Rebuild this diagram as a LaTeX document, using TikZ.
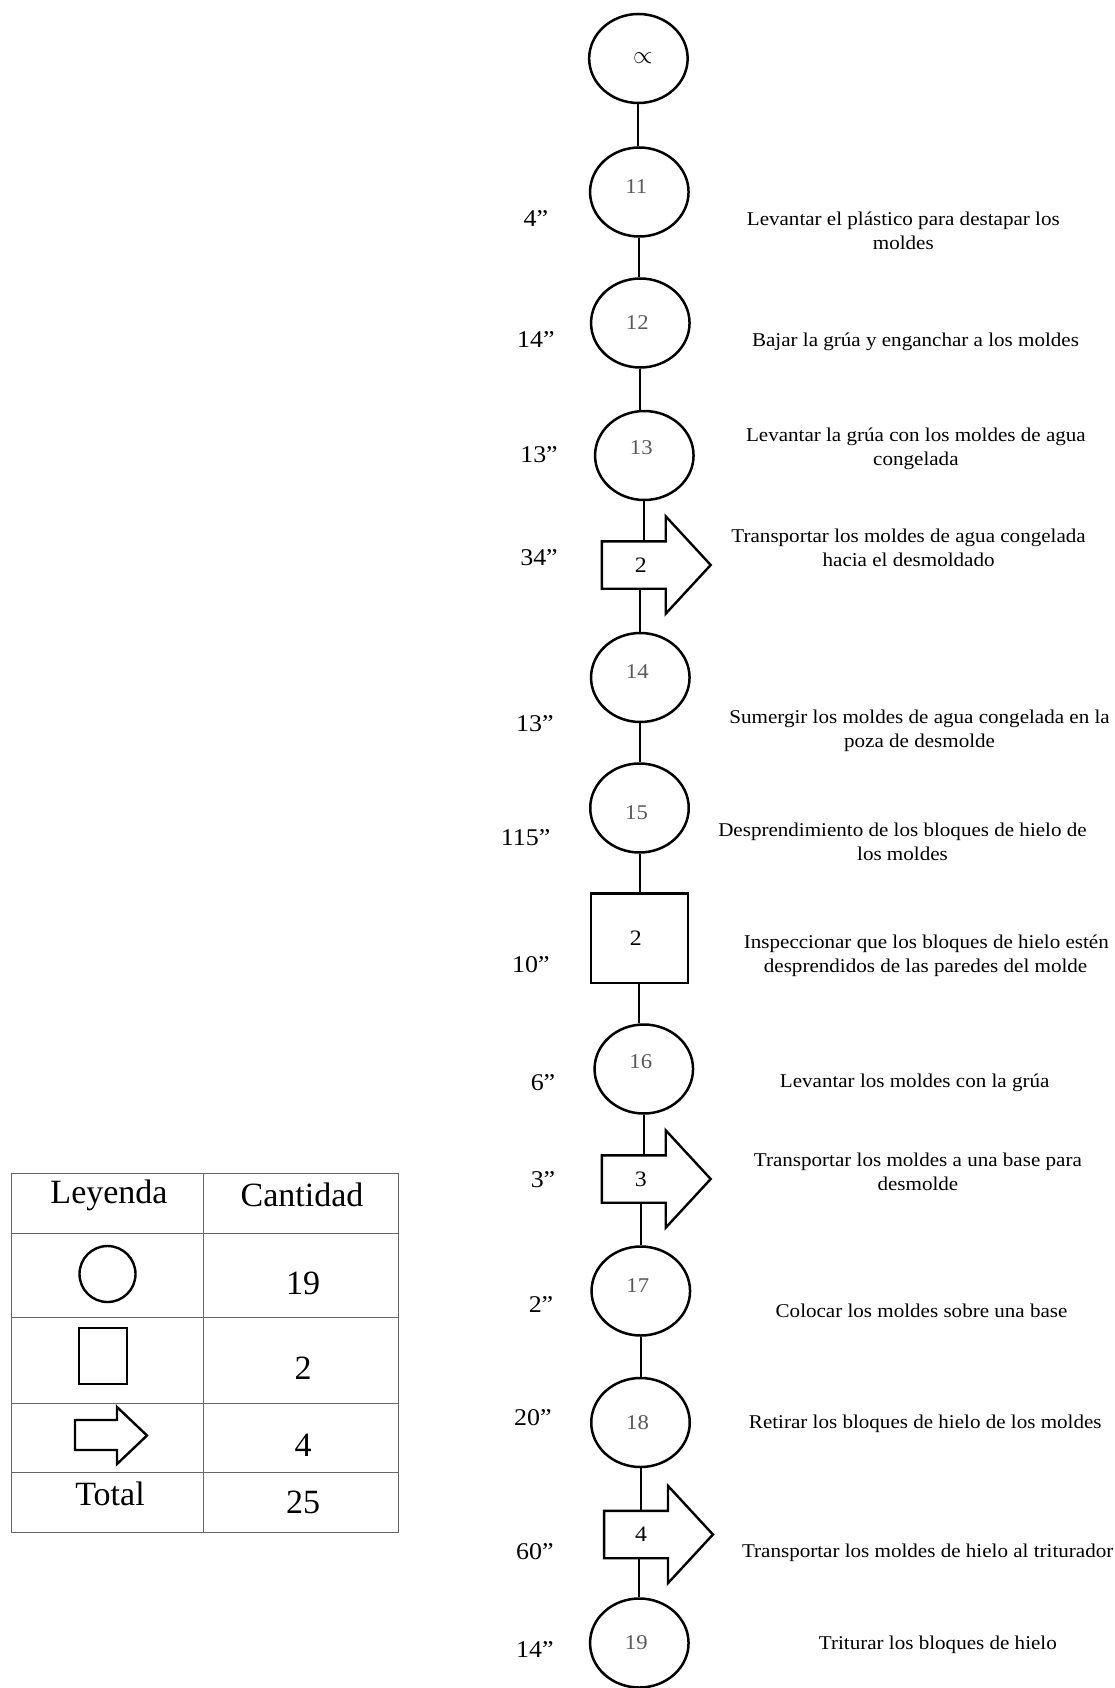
\documentclass[tikz,border=0pt]{standalone}
\usepackage{fontspec}
\setmainfont{Liberation Serif}
\newfontfamily\widefont[FakeStretch=1.08]{Liberation Serif}
\usetikzlibrary{shapes.geometric,calc}
\newcommand\movearrowoutline[1]{\draw[shp, line join=miter] (#1.north west) -- (#1.north east) -- ++(0,-25) -- ($(#1.east)+(45,0)$) -- ($(#1.south east)+(0,25)$) -- (#1.south east) -- (#1.south west) -- cycle;}
\newcommand\nudge[2]{\raisebox{#1}[\height][\depth]{#2}}
\begin{document}
\begin{tikzpicture}[x=1pt,y=-1pt,
 shp/.style={line width=2.4pt, black},
 opnode/.style={ellipse, draw, line width=2.5pt, minimum width=98.5pt, minimum height=89pt, inner sep=0pt, font=\widefont\fontsize{21}{24}\selectfont, text=black!65, execute at begin node={\hspace*{-6pt}}},
 insp/.style={rectangle, draw, line width=2.5pt, minimum width=97pt, minimum height=89.5pt, inner sep=0pt, font=\widefont\fontsize{22}{24}\selectfont},
 movebox/.style={rectangle, minimum width=63.5pt, minimum height=47pt, inner sep=0pt, font=\widefont\fontsize{22}{24}\selectfont},
 conn/.style={line width=2pt},
 tlabel/.style={font=\widefont\fontsize{24}{26}\selectfont},
 desc/.style={font=\widefont\fontsize{19.5}{24}\selectfont, align=center},
 tabline/.style={line width=1pt, black!60},
 tabtext/.style={font=\fontsize{34}{40}\selectfont}]

\useasboundingbox (0,0) rectangle (1115,1688);

% process nodes
\node[opnode, text=black] (ca) at (638.4,58.5) {\hspace*{15pt}\fontsize{24}{24}\selectfont$\propto$};
\node[opnode] (c11) at (639.3,192) {\nudge{5.5pt}{11}};
\node[opnode] (c12) at (640.3,323) {12};
\node[opnode] (c13) at (644.3,455.5) {\nudge{7.5pt}{13}};
\node[movebox] (a2) at (633.75,565) {\hspace*{14pt}2};
\movearrowoutline{a2}
\node[opnode] (c14) at (640.3,677.5) {\nudge{5.5pt}{14}};
\node[opnode] (c15) at (639.5,808) {\nudge{-5pt}{15}};
\node[insp] (s2) at (639.3,938) {\hspace*{-7pt}2};
\node[opnode] (c16) at (643.8,1069) {\nudge{7.5pt}{16}};
\node[movebox] (a3) at (633.75,1179) {\hspace*{14pt}3};
\movearrowoutline{a3}
\node[opnode] (c17) at (640.8,1291) {\nudge{5.5pt}{17}};
\node[opnode] (c18) at (640.5,1422.5) {18};
\node[movebox] (a4) at (636,1534.5) {\hspace*{10pt}4};
\movearrowoutline{a4}
\node[opnode] (c19) at (639.3,1643) {19};

% connectors
\draw[conn] (ca.south) -- (ca.south |- c11.north);
\draw[conn] (c11.south) -- (c11.south |- c12.north);
\draw[conn] (c12.south) -- (c12.south |- c13.north);
\draw[conn] (c13.south) -- (c13.south |- a2.north);
\draw[conn] (c14.north |- a2.south) -- (c14.north);
\draw[conn] (c14.south) -- (c14.south |- c15.north);
\draw[conn] (c15.south) -- (c15.south |- s2.north);
\draw[conn] (s2.south) -- (s2.south |- c16.north);
\draw[conn] (c16.south) -- (c16.south |- a3.north);
\draw[conn] (c17.north |- a3.south) -- (c17.north);
\draw[conn] (c17.south) -- (c17.south |- c18.north);
\draw[conn] (c18.south) -- (c18.south |- a4.north);
\draw[conn] (c19.north |- a4.south) -- (c19.north);

% times
\node[tlabel] (t11) at (535.8,219) {4”};
\node[tlabel] (t12) at (535.8,340) {14”};
\node[tlabel] (t13) at (539,455) {13”};
\node[tlabel] (ta2) at (539,558) {34”};
\node[tlabel] (t14) at (534.9,724) {13”};
\node[tlabel] (t15) at (525.6,838) {115”};
\node[tlabel] (ts2) at (530.9,965) {10”};
\node[tlabel] (t16) at (543,1083) {6”};
\node[tlabel] (ta3) at (543,1180) {3”};
\node[tlabel] (t17) at (541,1305) {2”};
\node[tlabel] (t18) at (532.9,1418) {20”};
\node[tlabel] (ta4) at (534.9,1552) {60”};
\node[tlabel] (t19) at (534.9,1649) {14”};

% descriptions
\node[desc] (d11) at (903.3,231) {Levantar el plástico para destapar los\\moldes};
\node[desc] (d12) at (915.5,342) {Bajar la grúa y enganchar a los moldes};
\node[desc] (d13) at (915.9,449) {Levantar la grúa con los moldes de agua\\congelada};
\node[desc] (da2) at (908.6,548) {Transportar los moldes de agua congelada\\hacia el desmoldado};
\node[desc] (d14) at (919.6,731) {Sumergir los moldes de agua congelada en la\\poza de desmolde};
\node[desc] (d15) at (902.5,842) {Desprendimiento de los bloques de hielo de\\los moldes};
\node[desc, align=left, anchor=west, inner xsep=0pt] (ds2) at (743.7,956) {Inspeccionar que los bloques de hielo estén\\\hspace*{20pt}desprendidos de las paredes del molde};
\node[desc] (d16) at (914.7,1083) {Levantar los moldes con la grúa};
\node[desc] (da3) at (917.9,1172) {Transportar los moldes a una base para\\desmolde};
\node[desc] (d17) at (921.6,1311) {Colocar los moldes sobre una base};
\node[desc] (d18) at (925.3,1424) {Retirar los bloques de hielo de los moldes};
\node[desc] (da4) at (927.7,1553) {Transportar los moldes de hielo al triturador};
\node[desc] (d19) at (937.9,1645) {Triturar los bloques de hielo};

% legend table
\draw[tabline] (11,1173) rectangle (398,1532);
\draw[tabline] (203,1173) -- (203,1532);
\foreach \yy in {1233,1317,1403,1472} \draw[tabline] (11,\yy) -- (398,\yy);
\node[tabtext] (lh1) at (109,1195) {Leyenda};
\node[tabtext] (lh2) at (302,1195) {Cantidad};
\node[tabtext] (lv1) at (303,1283) {19};
\node[tabtext] (lv2) at (303,1368) {2};
\node[tabtext] (lv3) at (303,1445) {4};
\node[tabtext] (lt) at (110,1494) {Total};
\node[tabtext] (lv4) at (303,1502) {25};
\draw[shp] (107.5,1274) circle[radius=28];
\draw[shp] (79,1328) rectangle (127,1384);
\draw[shp, line join=miter] (75,1420) -- (117,1420) -- (117,1407) -- (147,1435.5) -- (117,1464) -- (117,1450) -- (75,1450) -- cycle;
\end{tikzpicture}
\end{document}
